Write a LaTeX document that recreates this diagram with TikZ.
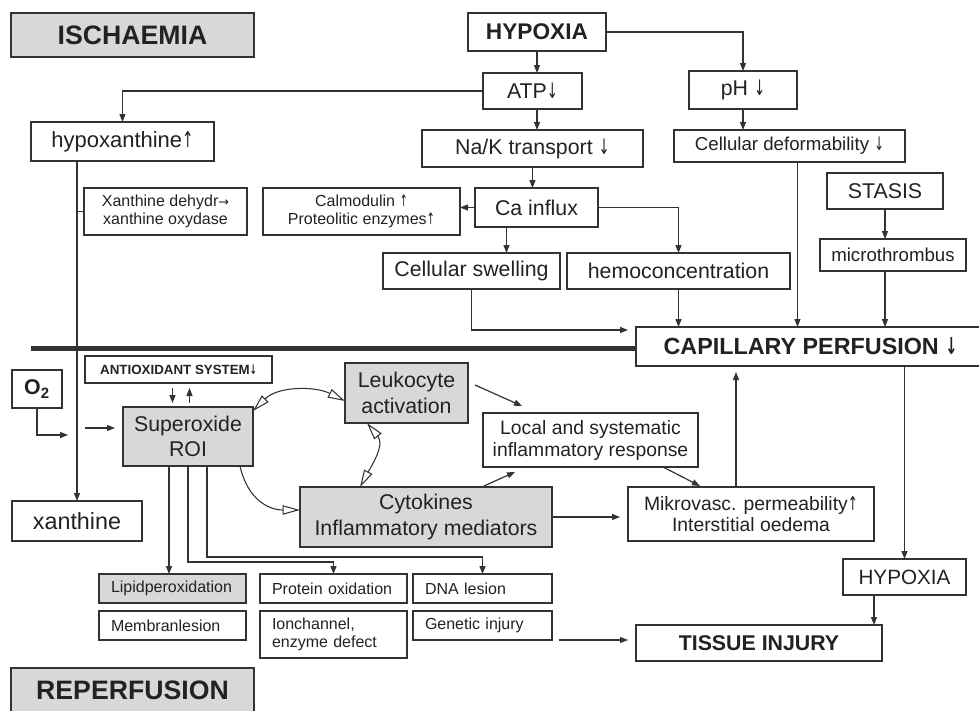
\documentclass[tikz,border=0pt]{standalone}
\usepackage{fontspec}
\usepackage{graphicx}
\setmainfont{Liberation Sans}
\newfontfamily\arrf{DejaVu Sans}
\newcommand\dna{{\arrf\scalebox{0.62}[1]{↓}}}
\newcommand\upa{{\arrf\scalebox{0.62}[1]{↑}}}
\newcommand\ria{{\arrf\scalebox{0.8}[0.8]{→}}}
\usetikzlibrary{arrows.meta,calc}
\definecolor{ln}{HTML}{333333}
\definecolor{gf}{HTML}{D8D8D8}
\definecolor{tx}{HTML}{222222}
\newcommand\bx[7]{%
 \pgfmathsetmacro\bxw{(#5-#3)*0.75}%
 \pgfmathsetmacro\bxh{(#6-#4)*0.75}%
 \pgfmathsetmacro\bxtw{\bxw-18}%
 \node[#2, minimum width=\bxw pt, minimum height=\bxh pt] (#1) at ({(#3+#5)/2},{(#4+#6)/2}) {#7};}
\tikzset{
 box/.style={draw=ln, line width=0.9pt, fill=white, text=tx, inner sep=2pt, outer sep=0pt, align=center, font=\fontsize{16}{19}\selectfont},
 gbox/.style={box, fill=gf},
 lbox/.style={box, text width=\bxtw pt, align=left, font=\fontsize{12}{13.5}\selectfont},
 tbox/.style={box, line width=2pt, fill=gf, font=\bfseries\fontsize{20}{24}\selectfont},
 arr/.style={draw=ln, line width=0.9pt, -{Triangle[length=6pt,width=4.5pt]}},
 plain/.style={draw=ln, line width=0.9pt},
 oarr/.style={draw=ln, line width=0.8pt, -{Triangle[open,length=13pt,width=7pt,fill=white]}},
 oarrb/.style={draw=ln, line width=0.8pt, {Triangle[open,length=13pt,width=7pt,fill=white]}-{Triangle[open,length=13pt,width=7pt,fill=white]}}
}
\begin{document}
\begin{tikzpicture}[x=0.75pt, y=-0.75pt]
\useasboundingbox (0,0) rectangle (979,711);
\clip (0,0) rectangle (979,711);
\fill[white] (0,0) rectangle (979,711);
% thick divider
\coordinate (tl) at (31,348);
\bx{isch}{tbox}{11}{13}{254}{57}{ISCHAEMIA}
\bx{hyp}{box, font=\bfseries\fontsize{17}{20}\selectfont}{468}{13}{606}{51}{HYPOXIA}
\bx{atp}{box}{483}{73}{582}{109}{ATP\dna}
\bx{nak}{box}{422}{130}{643}{167}{Na/K transport \dna}
\bx{ca}{box}{475}{188}{598}{227}{Ca influx}
\bx{calm}{box, font=\fontsize{12}{13.8}\selectfont}{263}{188}{460}{235}{Calmodulin \upa\\Proteolitic enzymes\upa}
\bx{xd}{box, font=\fontsize{12}{13.3}\selectfont}{84}{188}{247}{235}{Xanthine dehydr\ria\\xanthine oxydase}
\bx{hypx}{box, font=\fontsize{16.5}{19}\selectfont}{31}{122}{214}{161}{hypoxanthine\upa}
\bx{ph}{box}{689}{71}{797}{109}{pH \dna}
\bx{def}{box, font=\fontsize{14}{16}\selectfont}{674}{130}{905}{162}{Cellular deformability \dna}
\bx{stasis}{box}{827}{173}{943}{209}{STASIS}
\bx{micro}{box, font=\fontsize{14}{16}\selectfont}{820}{239}{966}{271}{microthrombus}
\bx{swell}{box}{383}{253}{560}{289}{Cellular swelling}
\bx{hemo}{box}{567}{253}{790}{289}{hemoconcentration}
\bx{cap}{box, font=\bfseries\fontsize{17.5}{20}\selectfont}{636}{327}{985}{366}{CAPILLARY PERFUSION \dna}
\draw[line width=3.75pt, ln] (tl) -- (tl -| cap.west);
\bx{ao}{box, font=\bfseries\fontsize{10}{12}\selectfont}{85}{356}{272}{383}{ANTIOXIDANT SYSTEM\dna}
\bx{o2}{box, font=\bfseries\fontsize{16}{19}\selectfont}{12}{370}{62}{408}{O\textsubscript{2}}
\bx{so}{gbox}{123}{407}{253}{466}{Superoxide\\ROI}
\bx{leuk}{gbox}{345}{363}{468}{423}{Leukocyte\\activation}
\bx{local}{box, font=\fontsize{14.5}{16.5}\selectfont}{483}{413}{698}{467}{Local and systematic\\inflammatory response}
\bx{cyt}{gbox}{300}{487}{552}{547}{Cytokines\\Inflammatory mediators}
\bx{mikro}{box, font=\fontsize{14.5}{15.5}\selectfont}{628}{487}{874}{541}{Mikrovasc. permeability\upa\\Interstitial oedema}
\bx{xan}{box, font=\fontsize{17.5}{20}\selectfont}{12}{501}{142}{541}{xanthine}
\bx{hyp2}{box, font=\fontsize{15.5}{18}\selectfont}{843}{559}{966}{595}{HYPOXIA}
\bx{ti}{box, font=\bfseries\fontsize{16}{19}\selectfont}{636}{625}{882}{661}{TISSUE INJURY}
\bx{lip}{lbox, fill=gf}{99}{574}{246}{603}{Lipidperoxidation}
\bx{mem}{lbox}{99}{611}{246}{640}{Membranlesion}
\bx{prot}{lbox}{260}{574}{407}{603}{Protein oxidation}
\bx{ion}{lbox}{260}{611}{407}{658}{Ionchannel,\\enzyme defect}
\bx{dnl}{lbox}{413}{574}{552}{603}{DNA lesion}
\bx{gen}{lbox}{413}{611}{552}{640}{Genetic injury}
\bx{rep}{tbox}{11}{668}{254}{713}{REPERFUSION}
% ischaemia connectors
\draw[arr] (hyp.south) -- (hyp.south |- atp.north);
\draw[arr] (hyp.east) -| (ph.north);
\draw[arr] (atp.west) -| (hypx.north);
\draw[arr] (hyp.south |- atp.south) -- (hyp.south |- nak.north);
\draw[arr] (nak.south) -- (nak.south |- ca.north);
\draw[arr] (ca.west) -- (ca.west -| calm.east);
\draw[arr] (ca.east) -| (hemo.north);
\draw[arr] ($(ca.south)+(-30,0)$) coordinate (c1) -- (c1 |- swell.north);
\draw[arr] (ph.south) -- (ph.south |- def.north);
\draw[arr] ($(def.south)+(8,0)$) coordinate (c2) -- (c2 |- cap.north);
\draw[arr] (stasis.south) -- (stasis.south |- micro.north);
\draw[arr] (stasis.south |- micro.south) -- (stasis.south |- cap.north);
\draw[arr] (hemo.south) -- (hemo.south |- cap.north);
\draw[arr, shorten >=6pt] (swell.south) |- ($(cap.north west)+(0,3)$);
\draw[arr] (xan.north |- hypx.south) -- (xan.north);
\draw[plain] (xd.west) -- (xd.west -| xan.north);
% reperfusion connectors
\coordinate (o2e) at (68,435);
\draw[arr] (o2.south) |- (o2e);
\coordinate (sin) at (85,428);
\draw[arr] (sin) -- ($(sin -| so.west)+(-8,0)$);
\draw[arr] ($(ao.south)+(-6,5)$) -- ($(ao.south)+(-6,20)$);
\draw[arr] ($(ao.south)+(11,20)$) -- ($(ao.south)+(11,5)$);
\draw[oarrb] ($(so.north east)+(0,4)$) .. controls +(25,-25) and +(-30,-15) .. ($(leuk.west)+(0,8)$);
\draw[oarrb] ($(leuk.south west)+(22,0)$) .. controls +(18,22) and +(12,-22) .. ($(cyt.north west)+(60,0)$);
\draw[oarr] ($(so.south east)+(-13,0)$) .. controls +(8,35) and +(-30,0) .. ($(cyt.west)+(0,-7)$);
\draw[arr] ($(leuk.east)+(7,-8)$) -- ($(local.north west)+(39,-7)$);
\draw[arr] ($(cyt.north east)+(-68,-1)$) -- ($(local.south west)+(32,5)$);
\draw[arr] ($(local.south east)+(-35,0)$) -- ($(mikro.north west)+(72,-1)$);
\draw[arr] ($(mikro.north west)+(108,0)$) coordinate (m1) -- ($(m1 |- cap.south)+(0,6)$);
\draw[arr] (hyp2.north |- cap.south) -- (hyp2.north);
\draw[arr] ($(hyp2.south west)+(31,0)$) coordinate (h1) -- (h1 |- ti.north);
\draw[arr, shorten >=6pt] (cyt.east) -- (cyt.east -| mikro.west);
\draw[arr, shorten >=6pt] ($(gen.east |- ti.west)+(7,-3)$) -- ($(ti.west)+(0,-3)$);
\draw[arr] ($(so.south west)+(46,0)$) coordinate (s1) -- (s1 |- lip.north);
\draw[arr] ($(so.south west)+(65,0)$) |- ($(prot.north)+(0,-12)$) -- (prot.north);
\draw[arr] ($(so.south west)+(84,0)$) |- ($(dnl.north)+(0,-17)$) -- (dnl.north);
\end{tikzpicture}
\end{document}
